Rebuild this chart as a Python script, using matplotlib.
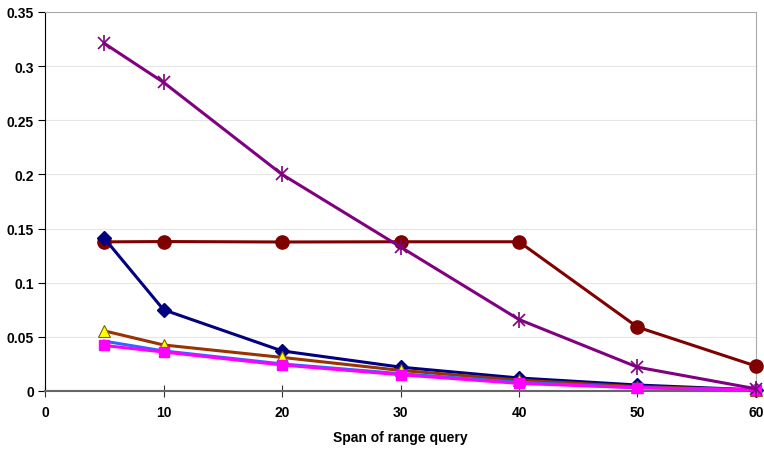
import matplotlib.pyplot as plt

plt.rcParams['font.family'] = ['Liberation Sans', 'DejaVu Sans']
plt.rcParams['font.weight'] = 'bold'

# Data
span = [5, 10, 20, 30, 40, 50, 60]
navy_vals = [0.141, 0.075, 0.037, 0.022, 0.012, 0.0055, 0.001]
magenta_vals = [0.042, 0.036, 0.024, 0.015, 0.007, 0.003, 0.001]
blue_vals = [0.046, 0.037, 0.025, 0.016, 0.008, 0.003, 0.001]
brown_vals = [0.0555, 0.0425, 0.031, 0.019, 0.010, 0.004, 0.001]
purple_vals = [0.321, 0.285, 0.200, 0.133, 0.066, 0.022, 0.002]
darkred_vals = [0.1377, 0.138, 0.1376, 0.1378, 0.1378, 0.059, 0.023]

fig = plt.figure(figsize=(7.64, 4.56), dpi=100)
ax = fig.add_axes([0.059, 0.1404, 0.9305, 0.8311])

lw = 2.2
ax.plot(span, darkred_vals, color='#800000', lw=lw, marker='o', ms=9.5, zorder=3, clip_on=False)
ax.plot(span, navy_vals, color='#000080', lw=lw, marker='D', ms=7, zorder=4, clip_on=False)
ax.plot(span, brown_vals, color='#993300', lw=lw, marker='^', ms=8.5,
        markerfacecolor='#FFFF00', markeredgecolor='#806000', markeredgewidth=0.8,
        zorder=5, clip_on=False)
ax.plot(span, blue_vals, color='#3366FF', lw=lw, zorder=5, clip_on=False)
ax.plot(span, magenta_vals, color='#FF00FF', lw=lw, marker='s', ms=7.5, zorder=6, clip_on=False)
ax.plot(span, purple_vals, color='#800080', lw=lw, marker='x', ms=9, mew=1.2, zorder=7, clip_on=False)
# vertical stroke to make the Excel-style star marker
ax.plot(span, purple_vals, color='#800080', lw=0, marker='|', ms=11, mew=1.2, zorder=7, clip_on=False)

ax.set_xlim(0, 60)
ax.set_ylim(0, 0.35)
ax.set_xticks([0, 10, 20, 30, 40, 50, 60])
ax.set_yticks([0, 0.05, 0.1, 0.15, 0.2, 0.25, 0.3, 0.35])
ax.set_yticklabels(['0', '0.05', '0.1', '0.15', '0.2', '0.25', '0.3', '0.35'])
ax.yaxis.grid(True, color='#e6e6e6', lw=0.8)
ax.set_axisbelow(True)

ax.spines['left'].set_color('black')
ax.spines['bottom'].set_color('#666666')
ax.spines['bottom'].set_linewidth(1.5)
ax.spines['top'].set_color('#aaaaaa')
ax.spines['right'].set_color('#aaaaaa')
ax.tick_params(axis='y', direction='out', length=5, labelsize=10, pad=3)
ax.tick_params(axis='x', direction='inout', length=8, labelsize=10, pad=6, color='#333333')

ax.set_xlabel('Span of range query', fontsize=10, fontweight='bold', labelpad=8)

plt.savefig('out.png', dpi=100)
